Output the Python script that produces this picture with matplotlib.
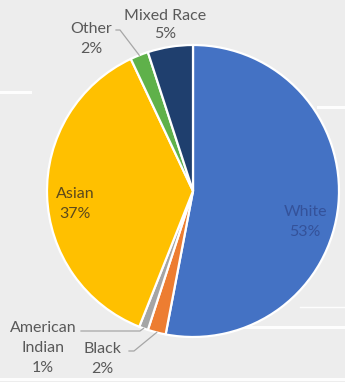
import numpy as np
import matplotlib
matplotlib.use("Agg")
import matplotlib.pyplot as plt
from matplotlib.lines import Line2D

plt.rcParams['font.family'] = ['Lato', 'DejaVu Sans']

# Share of students by race (percent)
categories = ["White", "Black", "American Indian", "Asian", "Other", "Mixed Race"]
shares = [53, 2, 1, 37, 2, 5]
colors = ["#4472C4", "#ED7D31", "#A5A5A5", "#FFC000", "#5FB14A", "#1F3F6E"]

W, H = 345, 382
fig = plt.figure(figsize=(W / 100, H / 100), dpi=100, facecolor="#ededed")
ax = fig.add_axes([0, 0, 1, 1])

# faint white guide strips behind the chart
for (x0, x1, y, lw) in [(0, 30, H - 92, 2.2), (318, 345, H - 107, 2.2),
                        (165, 345, H - 327, 2.2), (0, 345, H - 379, 2.2),
                        (300, 345, H - 307, 1.0)]:
    fig.add_artist(Line2D([x0 / W, x1 / W], [y / H, y / H], color="white",
                          lw=lw, alpha=0.9, zorder=0))

cx, cy, r = 193, H - 191, 146
wedges, _ = ax.pie(shares, colors=colors, startangle=90, counterclock=False,
                   center=(cx, cy), radius=r, frame=True,
                   wedgeprops=dict(edgecolor="white", linewidth=1.6))
ax.set_xlim(0, W)
ax.set_ylim(0, H)
ax.set_aspect("equal")
ax.axis("off")


def edge_point(w, frac=1.0):
    mid = np.deg2rad((w.theta1 + w.theta2) / 2)
    return cx + frac * r * np.cos(mid), cy + frac * r * np.sin(mid)


outside = "#595959"
fs = 11.5
ls = 1.5

# inside labels
ax.text(75, H - 204, f"{categories[3]}\n{shares[3]}%", ha="center", va="center",
        fontsize=fs, color="#5c4a1c", linespacing=ls)
ax.text(305, H - 222, f"{categories[0]}\n{shares[0]}%", ha="center", va="center",
        fontsize=fs, color="#34529a", linespacing=ls)

# outside labels
ax.text(165, H - 25, f"{categories[5]}\n{shares[5]}%", ha="center", va="center",
        fontsize=fs, color=outside, linespacing=1.3)
ax.text(91, H - 39, f"{categories[4]}\n{shares[4]}%", ha="center", va="center",
        fontsize=fs, color=outside, linespacing=ls)
ax.text(43, H - 348, "American\nIndian\n" + f"{shares[2]}%", ha="center", va="center",
        fontsize=fs, color=outside, linespacing=ls)
ax.text(102, H - 359, f"{categories[1]}\n{shares[1]}%", ha="center", va="center",
        fontsize=fs, color=outside, linespacing=ls)

lc = "#a6a6a6"
# leader: Other
px, py = edge_point(wedges[4])
ax.plot([116, 120, px], [H - 30, H - 30, py], color=lc, lw=0.9)
# leader: American Indian
px, py = edge_point(wedges[2])
ax.plot([81, 140, px], [H - 331, H - 331, py], color=lc, lw=0.9)
# leader: Black
px, py = edge_point(wedges[1])
ax.plot([129, 134, px], [H - 351, H - 351, py], color=lc, lw=0.9)

fig.savefig("out.png", dpi=100, facecolor=fig.get_facecolor())
